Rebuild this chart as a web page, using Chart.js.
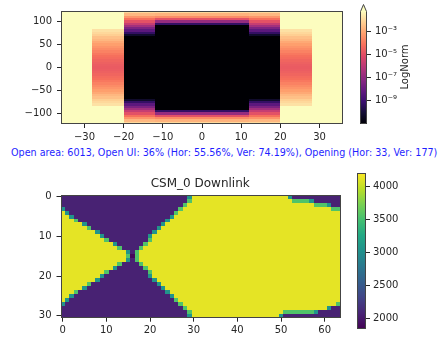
<!DOCTYPE html>
<html>
<head>
<meta charset="utf-8">
<script src="https://cdn.jsdelivr.net/npm/chart.js@4.4.1/dist/chart.umd.min.js"></script>
<style>
  html, body { margin: 0; padding: 0; background: #fff; overflow: hidden; }
  body { width: 444px; height: 338px; position: relative; font-family: "DejaVu Sans", sans-serif; }
  canvas { position: absolute; }
  #info { position: absolute; left: 11px; top: 147px; font-size: 9.6px; line-height: 12px; color: #1f1fff; white-space: nowrap; }
</style>
</head>
<body>
<canvas id="topMap" width="350" height="145" style="left:0;top:0"></canvas>
<canvas id="topBar" width="104" height="145" style="left:340px;top:0"></canvas>
<div id="info">Open area: 6013, Open UI: 36% (Hor: 55.56%, Ver: 74.19%), Opening (Hor: 33, Ver: 177)</div>
<canvas id="csmMap" width="400" height="178" style="left:0;top:160px"></canvas>
<canvas id="csmBar" width="104" height="178" style="left:340px;top:160px"></canvas>
<script>
// ---- top panel (LogNorm map) ----
const topXTicks = [-30, -20, -10, 0, 10, 20, 30];
const topYTicks = [-100, -50, 0, 50, 100];
const topColCenters = [-32, -24, -16, -8, 0, 8, 16, 24, 32];
const topColWidth = 8;
const topRowCenters = [120, 115, 110, 105, 100, 95, 90, 85, 80, 75, 70, 65, 60, 55, 50, 45, 40, 35, 30, 25, 20, 15, 10, 5, 0,
  -5, -10, -15, -20, -25, -30, -35, -40, -45, -50, -55, -60, -65, -70, -75, -80, -85, -90, -95, -100, -105, -110, -115, -120];
const topRowHeight = 5;

// log10 of the value in each row, top (y=120) to bottom (y=-120)
const outerLog = [0, 0, 0, 0, 0, 0, 0, 0, 0, 0, 0, 0, 0, 0, 0, 0, 0, 0, 0, 0, 0, 0, 0, 0, 0,
  0, 0, 0, 0, 0, 0, 0, 0, 0, 0, 0, 0, 0, 0, 0, 0, 0, 0, 0, 0, 0, 0, 0, 0];
const shoulderLog = [0, 0, 0, 0, 0, 0, 0, 0, -1.84, -2.03, -2.23, -2.52, -2.71, -3.0, -3.2, -3.4, -3.6, -3.8, -4.0, -4.2, -4.3, -4.45, -4.55, -4.65, -4.7,
  -4.65, -4.55, -4.45, -4.3, -4.2, -4.0, -3.8, -3.6, -3.4, -3.2, -3.0, -2.71, -2.52, -2.23, -2.03, -1.84, 0, 0, 0, 0, 0, 0, 0, 0];
const flankLog = [-2.03, -2.71, -3.4, -4.18, -4.96, -5.74, -6.61, -7.49, -8.27, -9.25, -10.22, -12, -12, -12, -12, -12, -12, -12, -12, -12, -12, -12, -12, -12, -12,
  -12, -12, -12, -12, -12, -12, -12, -12, -12, -12, -12, -12, -12, -10.22, -9.25, -8.27, -7.49, -6.61, -5.74, -4.96, -4.18, -3.4, -2.71, -2.03];
const coreLog = [-2.03, -2.81, -3.59, -4.96, -6.9, -9.25, -12, -12, -12, -12, -12, -12, -12, -12, -12, -12, -12, -12, -12, -12, -12, -12, -12, -12, -12,
  -12, -12, -12, -12, -12, -12, -12, -12, -12, -12, -12, -12, -12, -12, -12, -12, -12, -12, -9.25, -6.9, -4.96, -3.59, -2.81, -2.03];
const topColumns = [outerLog, shoulderLog, flankLog, coreLog, coreLog, coreLog, flankLog, shoulderLog, outerLog];

const logMin = -11, logMax = -1.25;
const logBarTicks = [1e-9, 1e-7, 1e-5, 1e-3];

// ---- bottom panel (CSM_0 Downlink) ----
const csmXTicks = [0, 10, 20, 30, 40, 50, 60];
const csmYTicks = [0, 10, 20, 30];
const csmLevels = { Y: 4120, y: 4040, G: 3550, t: 3050, P: 2060, D: 1880 };
// run-length rows, 64 cells each, row 0 at top
const csmRows = [
  'P29 t1 Y22 t1 P11',
  'P29 G1 Y23 G4 t1 P6',
  'P28 G1 Y29 G3 t1 P2',
  't1 P26 G1 Y34 G2',
  'Y1 t1 P24 G1 Y37',
  'Y2 t1 P22 t1 Y38',
  'Y3 G1 P20 t1 Y39',
  'Y5 t1 P17 t1 Y40',
  'Y6 G1 P15 t1 Y41',
  'Y8 t1 P12 t1 Y42',
  'Y9 t1 P10 t1 Y43',
  'Y10 G1 P9 G1 Y43',
  'Y12 t1 P6 G1 Y44',
  'Y13 G1 P4 G1 Y45',
  'Y15 t1 P1 G1 Y46',
  'Y15 G1 D1 G1 Y46',
  'Y15 t1 P1 G1 Y46',
  'Y13 G1 P4 G1 Y45',
  'Y12 t1 P6 G1 Y44',
  'Y10 G1 P9 G1 Y43',
  'Y9 t1 P10 t1 Y43',
  'Y8 t1 P12 t1 Y42',
  'Y6 G1 P15 t1 Y41',
  'Y5 t1 P17 t1 Y40',
  'Y3 G1 P20 t1 Y39',
  'Y2 t1 P22 t1 Y38',
  'Y1 t1 P24 G1 Y37',
  't1 P26 G1 Y35 G1',
  'P28 G1 Y32 t1 P2',
  'P29 G1 Y21 G7 t1 P5',
  'P29 t1 Y20 t1 P13'
];
const csmMin = 1838, csmMax = 4209;
const csmBarTicks = [2000, 2500, 3000, 3500, 4000];

// ---- colour maps ----
const magmaStops = ['#000004', '#140e36', '#3b0f70', '#641a80', '#8c2981', '#b73779', '#de4968', '#f7705c', '#fe9f6d', '#fecf92', '#fcfdbf'];
const viridisStops = ['#440154', '#482475', '#414487', '#355f8d', '#2a788e', '#21918c', '#22a884', '#44bf70', '#7ad151', '#bddf26', '#fde725'];

function hexRgb(h) {
  return [parseInt(h.slice(1, 3), 16), parseInt(h.slice(3, 5), 16), parseInt(h.slice(5, 7), 16)];
}
function cmap(stops, n) {
  n = Math.max(0, Math.min(1, n));
  const f = n * (stops.length - 1);
  const i = Math.min(stops.length - 2, Math.floor(f));
  const t = f - i;
  const a = hexRgb(stops[i]), b = hexRgb(stops[i + 1]);
  return 'rgb(' + a.map((v, k) => Math.round(v + (b[k] - v) * t)).join(',') + ')';
}
const magmaLog = e => cmap(magmaStops, (e - logMin) / (logMax - logMin));
const viridisVal = v => cmap(viridisStops, (v - csmMin) / (csmMax - csmMin));

const ink = '#262626';
const frameColor = '#444';
Chart.defaults.font.family = 'DejaVu Sans';
Chart.defaults.font.size = 10;
Chart.defaults.color = ink;

const fmt = v => (v < 0 ? '\u2212' + Math.abs(v) : String(v));
const supDigits = { '-': '\u207b', '0': '\u2070', '1': '\u00b9', '2': '\u00b2', '3': '\u00b3', '4': '\u2074', '5': '\u2075', '6': '\u2076', '7': '\u2077', '8': '\u2078', '9': '\u2079' };
const sup = n => String(n).split('').map(c => supDigits[c]).join('');

function axis(extra, ticksList, fit) {
  return Object.assign({
    type: 'linear',
    grid: { drawOnChartArea: false, drawTicks: true, tickLength: 4, tickWidth: 1, tickColor: ink },
    border: { display: false },
    ticks: { color: ink, padding: 3, maxRotation: 0, autoSkip: false, callback: fmt },
    afterBuildTicks: s => { s.ticks = ticksList.map(v => ({ value: v })); },
    afterFit: fit
  }, extra);
}

const frame = {
  id: 'frame',
  afterDraw(chart) {
    const { ctx, chartArea: a } = chart;
    ctx.save();
    ctx.strokeStyle = frameColor;
    ctx.lineWidth = 1;
    ctx.strokeRect(Math.round(a.left) + 0.5, Math.round(a.top) + 0.5, Math.round(a.width) - 1, Math.round(a.height) - 1);
    ctx.restore();
  }
};

const baseOpts = {
  responsive: false, animation: false, devicePixelRatio: 1, events: [],
  plugins: { legend: { display: false }, tooltip: { enabled: false }, title: { display: false } }
};

// top map
new Chart(document.getElementById('topMap'), {
  type: 'scatter',
  data: { datasets: [] },
  options: Object.assign({}, baseOpts, {
    layout: { padding: { left: 0, top: 5, right: 7, bottom: 5 } },
    scales: {
      x: axis({ min: -36, max: 36 }, topXTicks, s => { s.height = 16; }),
      y: axis({ min: -122.5, max: 122.5, ticks: { color: ink, padding: 5, autoSkip: false, callback: fmt } }, topYTicks, s => { s.width = 61; })
    }
  }),
  plugins: [{
    id: 'topCells',
    beforeDatasetsDraw(chart) {
      const { ctx, scales: { x, y } } = chart;
      ctx.save();
      topColCenters.forEach((xc, i) => {
        const x0 = Math.round(x.getPixelForValue(xc - topColWidth / 2));
        const x1 = Math.round(x.getPixelForValue(xc + topColWidth / 2));
        topRowCenters.forEach((yc, j) => {
          const y0 = Math.round(y.getPixelForValue(yc + topRowHeight / 2));
          const y1 = Math.round(y.getPixelForValue(yc - topRowHeight / 2));
          ctx.fillStyle = magmaLog(topColumns[i][j]);
          ctx.fillRect(x0, y0, x1 - x0, y1 - y0);
        });
      });
      ctx.restore();
    }
  }, frame]
});

// top colour bar
new Chart(document.getElementById('topBar'), {
  type: 'scatter',
  data: { datasets: [] },
  options: Object.assign({}, baseOpts, {
    layout: { padding: { left: 20, top: 11, right: 0, bottom: 21 } },
    scales: {
      x: { display: false },
      y: {
        type: 'logarithmic', position: 'right', min: Math.pow(10, logMin), max: Math.pow(10, logMax),
        grid: { drawOnChartArea: false, drawTicks: true, tickLength: 4, tickColor: ink },
        border: { display: false },
        ticks: { color: ink, padding: 4, autoSkip: false, callback: v => '10' + sup(Math.round(Math.log10(v))) },
        afterBuildTicks: s => { s.ticks = logBarTicks.map(v => ({ value: v })); },
        afterFit: s => { s.width = 77; }
      }
    }
  }),
  plugins: [{
    id: 'logBar',
    beforeDatasetsDraw(chart) {
      const { ctx, chartArea: a, scales: { y } } = chart;
      const l = Math.round(a.left), r = Math.round(a.right), t = Math.round(a.top), b = Math.round(a.bottom);
      ctx.save();
      for (let py = t; py < b; py++) {
        ctx.fillStyle = magmaLog(Math.log10(y.getValueForPixel(py + 0.5)));
        ctx.fillRect(l, py, r - l, 1);
      }
      // extend triangle for values above the top
      ctx.beginPath();
      ctx.moveTo(l + 0.5, t + 0.5);
      ctx.lineTo((l + r) / 2, t - 6.5);
      ctx.lineTo(r - 0.5, t + 0.5);
      ctx.closePath();
      ctx.fillStyle = magmaStops[magmaStops.length - 1];
      ctx.fill();
      ctx.beginPath();
      ctx.moveTo(l + 0.5, b - 0.5);
      ctx.lineTo(l + 0.5, t + 0.5);
      ctx.lineTo((l + r) / 2, t - 6.5);
      ctx.lineTo(r - 0.5, t + 0.5);
      ctx.lineTo(r - 0.5, b - 0.5);
      ctx.closePath();
      ctx.strokeStyle = frameColor;
      ctx.lineWidth = 1;
      ctx.stroke();
      ctx.translate(65, 67);
      ctx.rotate(-Math.PI / 2);
      ctx.fillStyle = ink;
      ctx.font = '10px "DejaVu Sans"';
      ctx.textAlign = 'center';
      ctx.textBaseline = 'middle';
      ctx.fillText('LogNorm', 0, 0);
      ctx.restore();
    }
  }]
});

// bottom map
const csmGrid = csmRows.map(row => {
  const cells = [];
  row.split(' ').forEach(run => {
    const n = parseInt(run.slice(1), 10);
    for (let k = 0; k < n; k++) cells.push(csmLevels[run[0]]);
  });
  return cells;
});

new Chart(document.getElementById('csmMap'), {
  type: 'scatter',
  data: { datasets: [] },
  options: Object.assign({}, baseOpts, {
    layout: { padding: { left: 0, top: 16.8, right: 60, bottom: 4 } },
    plugins: {
      legend: { display: false }, tooltip: { enabled: false },
      title: { display: true, fullSize: false, text: 'CSM_0 Downlink', color: ink, font: { size: 12, weight: 'normal' }, padding: { top: 0, bottom: 3.5 } }
    },
    scales: {
      x: axis({ min: -0.5, max: 63.5 }, csmXTicks, s => { s.height = 16.3; }),
      y: axis({ min: -0.5, max: 30.5, reverse: true, ticks: { color: ink, padding: 5, autoSkip: false, callback: fmt } }, csmYTicks, s => { s.width = 60.5; })
    }
  }),
  plugins: [{
    id: 'csmCells',
    beforeDatasetsDraw(chart) {
      const { ctx, scales: { x, y } } = chart;
      ctx.save();
      csmGrid.forEach((cells, r) => {
        const y0 = Math.round(y.getPixelForValue(r - 0.5));
        const y1 = Math.round(y.getPixelForValue(r + 0.5));
        cells.forEach((v, c) => {
          const x0 = Math.round(x.getPixelForValue(c - 0.5));
          const x1 = Math.round(x.getPixelForValue(c + 0.5));
          ctx.fillStyle = viridisVal(v);
          ctx.fillRect(x0, y0, x1 - x0, y1 - y0);
        });
      });
      ctx.restore();
    }
  }, frame]
});

// bottom colour bar
new Chart(document.getElementById('csmBar'), {
  type: 'scatter',
  data: { datasets: [] },
  options: Object.assign({}, baseOpts, {
    layout: { padding: { left: 17, top: 12.7, right: 0, bottom: 0 } },
    scales: {
      x: { display: false },
      y: {
        type: 'linear', position: 'right', min: csmMin, max: csmMax,
        grid: { drawOnChartArea: false, drawTicks: true, tickLength: 4, tickColor: ink },
        border: { display: false },
        ticks: { color: ink, padding: 3, autoSkip: false, callback: v => String(v) },
        afterBuildTicks: s => { s.ticks = csmBarTicks.map(v => ({ value: v })); },
        afterFit: s => { s.width = 78; }
      }
    }
  }),
  plugins: [{
    id: 'linBar',
    beforeDatasetsDraw(chart) {
      const { ctx, chartArea: a, scales: { y } } = chart;
      const l = Math.round(a.left), r = Math.round(a.right), t = Math.round(a.top), b = Math.round(a.bottom);
      ctx.save();
      for (let py = t; py < b; py++) {
        ctx.fillStyle = viridisVal(y.getValueForPixel(py + 0.5));
        ctx.fillRect(l, py, r - l, 1);
      }
      ctx.restore();
    }
  }, frame]
});
</script>
</body>
</html>
